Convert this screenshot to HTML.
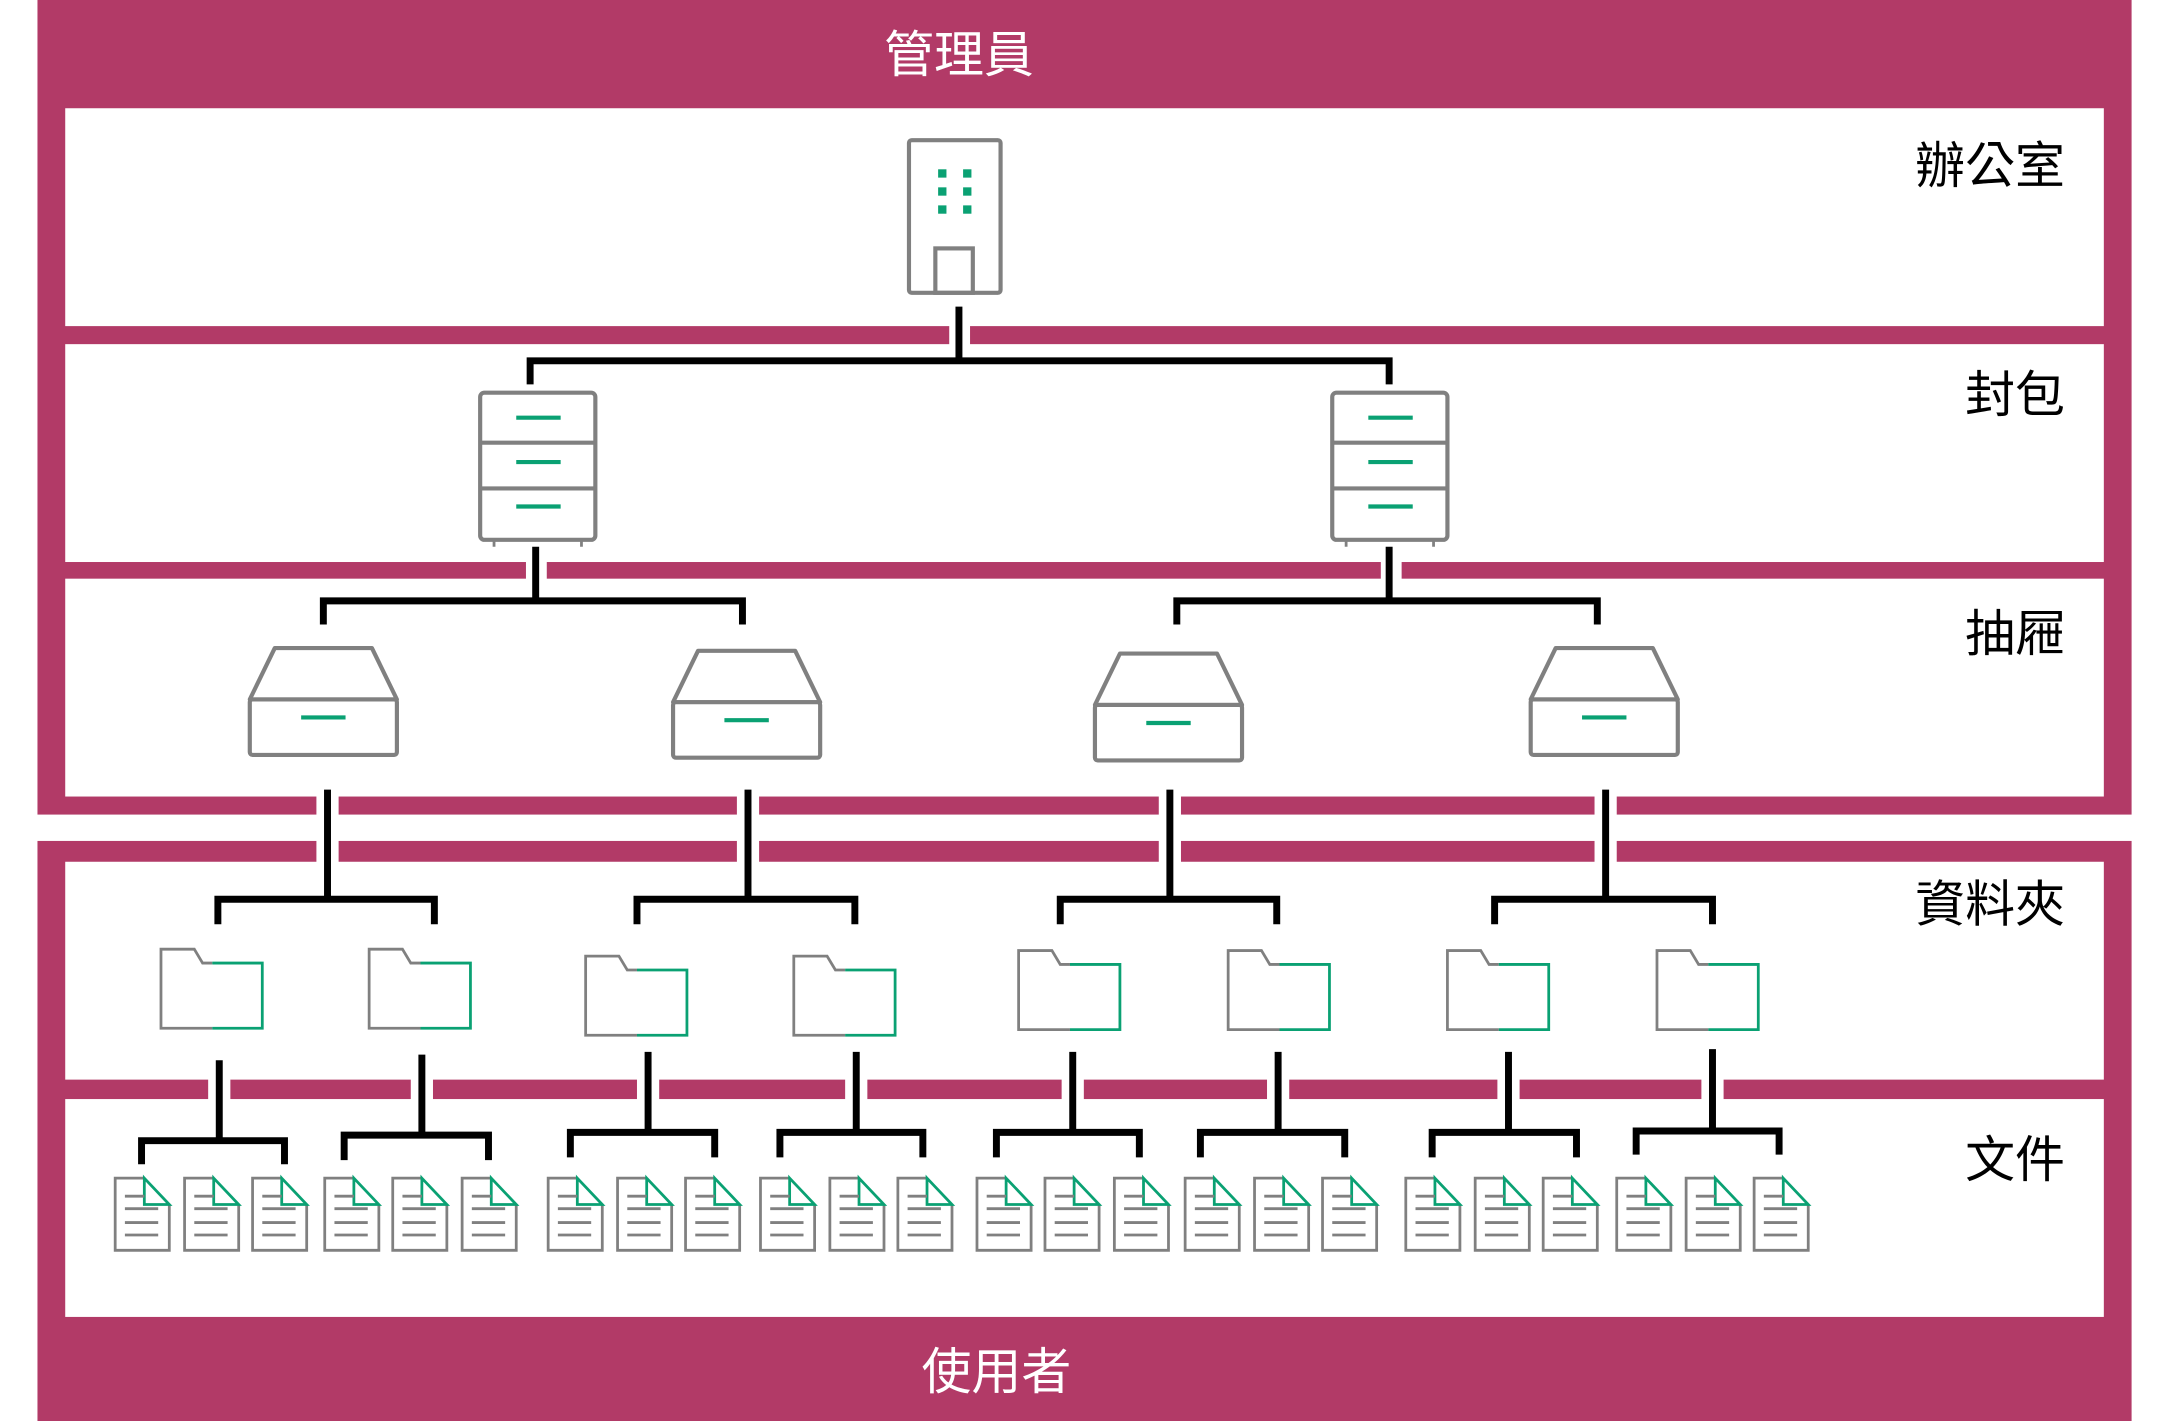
<!DOCTYPE html>
<html><head><meta charset="utf-8"><style>html,body{margin:0;padding:0;background:#fff}svg{display:block}</style></head>
<body>
<svg width="2176" height="1421" viewBox="0 0 1568 1024" preserveAspectRatio="none" xmlns="http://www.w3.org/2000/svg">
<defs>
<g id="file">
<path d="M21,0 H0 V52 H39 V19" fill="#fff" stroke="#808080" stroke-width="2"/>
<path d="M21,0 L39,19 H21 Z" fill="#fff" stroke="#0aa173" stroke-width="2" stroke-linejoin="miter"/>
<path d="M7,13 H21 M7,22 H31 M7,32 H31 M7,41 H31" stroke="#808080" stroke-width="2"/>
</g>
<g id="folder">
<path d="M37,57 H0 V0 H24 L30,10 H37" fill="#fff" stroke="#808080" stroke-width="2"/>
<path d="M37,10 H73 V57 H37" fill="none" stroke="#0aa173" stroke-width="2"/>
</g>
<g id="drawer">
<path d="M0,37 L18,0 H88 L106,37 Z" fill="#fff" stroke="#808080" stroke-width="3" stroke-linejoin="round"/>
<rect x="0" y="37" width="106" height="40" rx="2" fill="#fff" stroke="#808080" stroke-width="3"/>
<path d="M37,50 H69" stroke="#0aa173" stroke-width="3"/>
</g>
<g id="cab">
<rect x="0" y="0" width="83" height="106" rx="3" fill="#fff" stroke="#808080" stroke-width="3"/>
<path d="M0,36 H83 M0,69 H83" stroke="#808080" stroke-width="3"/>
<path d="M26,18 H58 M26,50 H58 M26,82 H58" stroke="#0aa173" stroke-width="3"/>
<path d="M10,106 V111 M73,106 V111" stroke="#808080" stroke-width="2"/>
</g>
</defs>
<rect width="1568" height="1024" fill="#fff"/>
<rect x="27" y="0" width="1509" height="587" fill="#b23a67"/>
<rect x="27" y="606" width="1509" height="418" fill="#b23a67"/>
<g fill="#fff">
<rect x="47" y="78" width="1469" height="157"/>
<rect x="47" y="248" width="1469" height="157"/>
<rect x="47" y="417" width="1469" height="157"/>
<rect x="47" y="621" width="1469" height="157"/>
<rect x="47" y="792" width="1469" height="157"/>
<rect x="684" y="234" width="15" height="16"/>
<rect x="379" y="404" width="15" height="14"/>
<rect x="995" y="404" width="15" height="14"/>
<rect x="228" y="573" width="16" height="50"/>
<rect x="531" y="573" width="16" height="50"/>
<rect x="835" y="573" width="16" height="50"/>
<rect x="1149" y="573" width="16" height="50"/>
<rect x="150" y="777" width="16" height="16"/>
<rect x="296" y="777" width="16" height="16"/>
<rect x="459" y="777" width="16" height="16"/>
<rect x="609" y="777" width="16" height="16"/>
<rect x="765" y="777" width="16" height="16"/>
<rect x="913" y="777" width="16" height="16"/>
<rect x="1079" y="777" width="16" height="16"/>
<rect x="1226" y="777" width="16" height="16"/>
</g>
<g font-family="'Liberation Sans','Noto Sans CJK TC',sans-serif" font-size="36">
<text x="691" y="52" fill="#fff" text-anchor="middle">管理員</text>
<text x="718" y="1001" fill="#fff" text-anchor="middle">使用者</text>
<g fill="#000" text-anchor="end">
<text x="1488" y="132">辦公室</text>
<text x="1488" y="297">封包</text>
<text x="1488" y="469">抽屜</text>
<text x="1488" y="664">資料夾</text>
<text x="1488" y="848">文件</text>
</g>
</g>
<rect x="655" y="101" width="66" height="110" rx="2" fill="#fff" stroke="#808080" stroke-width="3"/>
<rect x="674" y="179" width="27" height="32" fill="none" stroke="#808080" stroke-width="3"/>
<g fill="#0aa173">
<rect x="676" y="122" width="6" height="6"/><rect x="694" y="122" width="6" height="6"/>
<rect x="676" y="135" width="6" height="6"/><rect x="694" y="135" width="6" height="6"/>
<rect x="676" y="148" width="6" height="6"/><rect x="694" y="148" width="6" height="6"/>
</g>
<use href="#cab" x="346" y="283"/>
<use href="#cab" x="960" y="283"/>
<use href="#drawer" x="180" y="467"/>
<use href="#drawer" x="485" y="469"/>
<use href="#drawer" x="789" y="471"/>
<use href="#drawer" x="1103" y="467"/>
<use href="#folder" x="116" y="684"/>
<use href="#folder" x="266" y="684"/>
<use href="#folder" x="422" y="689"/>
<use href="#folder" x="572" y="689"/>
<use href="#folder" x="734" y="685"/>
<use href="#folder" x="885" y="685"/>
<use href="#folder" x="1043" y="685"/>
<use href="#folder" x="1194" y="685"/>
<g>
<use href="#file" x="83" y="849"/><use href="#file" x="133" y="849"/><use href="#file" x="182" y="849"/>
<use href="#file" x="234" y="849"/><use href="#file" x="283" y="849"/><use href="#file" x="333" y="849"/>
<use href="#file" x="395" y="849"/><use href="#file" x="445" y="849"/><use href="#file" x="494" y="849"/>
<use href="#file" x="548" y="849"/><use href="#file" x="598" y="849"/><use href="#file" x="647" y="849"/>
<use href="#file" x="704" y="849"/><use href="#file" x="753" y="849"/><use href="#file" x="803" y="849"/>
<use href="#file" x="854" y="849"/><use href="#file" x="904" y="849"/><use href="#file" x="953" y="849"/>
<use href="#file" x="1013" y="849"/><use href="#file" x="1063" y="849"/><use href="#file" x="1112" y="849"/>
<use href="#file" x="1165" y="849"/><use href="#file" x="1215" y="849"/><use href="#file" x="1264" y="849"/>
</g>
<g fill="none" stroke="#000" stroke-width="5">
<path d="M691,221 V260 M382,277 V260 H1001 V277"/>
<path d="M386,394 V433 M233,450 V433 H535 V450"/>
<path d="M1001,394 V433 M848,450 V433 H1151 V450"/>
<path d="M236,569 V648 M157,666 V648 H313 V666"/>
<path d="M539,569 V648 M459,666 V648 H616 V666"/>
<path d="M843,569 V648 M764,666 V648 H920 V666"/>
<path d="M1157,569 V648 M1077,666 V648 H1234 V666"/>
<path d="M158,764 V822 M102,839 V822 H205 V839"/>
<path d="M304,760 V818 M248,836 V818 H352 V836"/>
<path d="M467,758 V816 M411,834 V816 H515 V834"/>
<path d="M617,758 V816 M562,834 V816 H665 V834"/>
<path d="M773,758 V816 M718,834 V816 H821 V834"/>
<path d="M921,758 V816 M865,834 V816 H969 V834"/>
<path d="M1087,758 V816 M1032,834 V816 H1136 V834"/>
<path d="M1234,756 V815 M1179,832 V815 H1282 V832"/>
</g>
</svg>
</body></html>
